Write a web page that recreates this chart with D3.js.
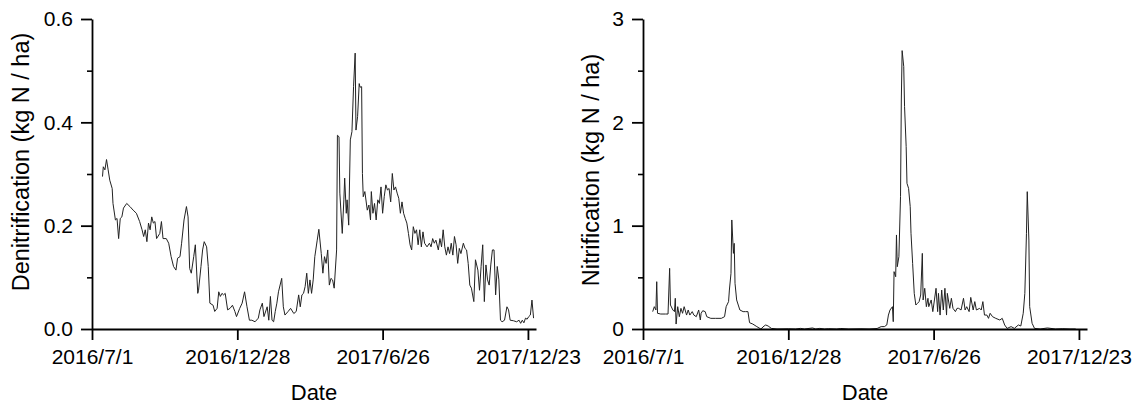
<!DOCTYPE html>
<html>
<head>
<meta charset="utf-8">
<script src="https://cdn.jsdelivr.net/npm/d3@7"></script>
<style>
  html, body { margin: 0; padding: 0; background: #fff; }
  svg { display: block; font-family: "Liberation Sans", Arial, sans-serif; }
  .tick text { fill: #000; }
</style>
</head>
<body>
<svg id="chart" width="1142" height="410"></svg>
<script>
// Days counted from 2016-07-01
const startDate = new Date(2016, 6, 1);
const endDate = new Date(2018, 0, 2);
const dateTicks = [new Date(2016, 6, 1), new Date(2016, 11, 28), new Date(2017, 5, 26), new Date(2017, 11, 23)];

// Denitrification (kg N / ha)
const denitDays = [13,14,16,18,20,22,25,26,29,31,33,35,37,39,43,47,51,55,59,62,64,66,68,70,72,74,76,78,80,84,86,88,92,95,98,101,104,106,109,111,114,117,119,121,123,126,128,131,132,135,137,139,142,144,146,150,152,155,157,159,161,163,165,168,171,174,177,179,183,186,189,192,195,198,202,206,208,211,213,217,219,221,223,225,227,229,231,235,237,239,243,246,250,253,256,258,260,262,264,266,268,270,272,274,276,279,281,284,286,288,290,292,294,296,298,300,303,304,306,307,310,312,313,315,316,318,320,322,324,326,327,329,331,332,334,335,336,338,341,343,345,346,348,350,352,354,356,358,360,362,364,366,368,370,372,374,376,378,380,382,384,386,388,390,392,394,396,398,400,402,404,406,408,410,412,415,418,420,422,424,426,429,431,433,435,437,439,441,443,445,447,449,451,453,455,457,460,462,464,466,468,470,473,475,478,480,482,484,486,488,490,492,494,496,498,500,502,504,506,508,511,514,516,518,522,526,529,531,533,535,537,539,541,543,545,547];
const denitValues = [0.295,0.314,0.308,0.328,0.308,0.288,0.272,0.243,0.211,0.214,0.175,0.214,0.217,0.234,0.243,0.237,0.230,0.224,0.208,0.192,0.179,0.192,0.169,0.205,0.192,0.217,0.205,0.208,0.175,0.185,0.208,0.175,0.175,0.166,0.140,0.121,0.114,0.137,0.140,0.166,0.211,0.237,0.217,0.117,0.108,0.140,0.163,0.069,0.075,0.121,0.153,0.169,0.159,0.121,0.050,0.046,0.034,0.040,0.072,0.063,0.069,0.066,0.069,0.037,0.040,0.046,0.034,0.024,0.040,0.050,0.072,0.043,0.017,0.017,0.014,0.021,0.037,0.050,0.024,0.043,0.017,0.063,0.017,0.014,0.034,0.050,0.072,0.098,0.043,0.027,0.034,0.040,0.030,0.034,0.066,0.043,0.066,0.069,0.082,0.108,0.069,0.095,0.069,0.095,0.140,0.172,0.193,0.146,0.108,0.140,0.127,0.153,0.085,0.098,0.095,0.079,0.153,0.375,0.372,0.263,0.185,0.250,0.292,0.224,0.250,0.201,0.366,0.382,0.469,0.534,0.385,0.411,0.475,0.468,0.469,0.301,0.256,0.266,0.230,0.240,0.211,0.266,0.224,0.243,0.211,0.250,0.243,0.275,0.224,0.256,0.279,0.269,0.272,0.246,0.301,0.269,0.275,0.263,0.253,0.224,0.246,0.224,0.214,0.205,0.185,0.163,0.153,0.198,0.185,0.192,0.163,0.192,0.159,0.188,0.166,0.159,0.166,0.159,0.175,0.166,0.172,0.153,0.175,0.159,0.192,0.159,0.143,0.159,0.146,0.166,0.143,0.179,0.163,0.127,0.156,0.146,0.166,0.156,0.153,0.127,0.085,0.079,0.053,0.134,0.114,0.075,0.121,0.163,0.053,0.124,0.095,0.085,0.124,0.153,0.153,0.066,0.121,0.095,0.017,0.014,0.017,0.043,0.037,0.017,0.016,0.014,0.017,0.011,0.017,0.012,0.021,0.019,0.024,0.027,0.056,0.021];

// Nitrification (kg N / ha)
const nitDays = [12,14,16,17,18,22,28,31,33,34,37,39,40,41,43,45,47,49,51,54,56,58,61,63,66,69,71,72,74,77,79,84,90,97,101,103,106,107,109,110,112,113,114,116,118,120,124,127,130,132,136,141,146,150,152,155,159,166,180,189,195,200,210,214,219,225,230,240,245,255,270,280,290,295,299,302,304,306,309,310,311,313,314,315,317,319,320,321,323,324,326,327,329,331,332,334,336,338,340,342,344,346,347,349,351,353,354,357,359,361,363,365,366,368,370,372,374,376,377,380,382,384,387,389,391,394,397,399,401,404,406,409,411,413,417,419,421,423,426,428,430,433,437,442,445,448,451,456,460,465,468,471,473,475,476,478,479,482,485,492,501,511,520,529,536];
const nitValues = [0.168,0.216,0.184,0.458,0.152,0.145,0.145,0.145,0.587,0.232,0.184,0.168,0.297,0.048,0.216,0.119,0.200,0.152,0.216,0.135,0.184,0.135,0.168,0.135,0.119,0.184,0.087,0.152,0.177,0.168,0.119,0.103,0.103,0.103,0.119,0.216,0.265,0.377,0.539,1.055,0.732,0.829,0.442,0.281,0.232,0.184,0.168,0.168,0.168,0.061,0.048,0.023,0.000,0.029,0.039,0.029,0.006,0.000,0.002,0.000,0.006,0.000,0.010,0.000,0.006,0.000,0.003,0.000,0.005,0.000,0.002,0.000,0.005,0.023,0.023,0.039,0.135,0.184,0.216,0.071,0.555,0.506,0.910,0.603,0.700,1.281,2.216,2.694,2.539,2.152,1.765,1.410,1.361,1.184,0.926,0.635,0.345,0.232,0.248,0.265,0.329,0.732,0.281,0.394,0.216,0.297,0.216,0.281,0.168,0.281,0.394,0.168,0.345,0.135,0.377,0.184,0.394,0.135,0.345,0.200,0.297,0.200,0.168,0.200,0.200,0.184,0.297,0.184,0.216,0.168,0.306,0.184,0.265,0.184,0.200,0.184,0.265,0.135,0.135,0.103,0.152,0.119,0.103,0.087,0.103,0.039,0.006,0.023,0.006,0.039,0.029,0.152,0.345,0.926,1.329,0.861,0.216,0.055,0.006,0.000,0.010,0.000,0.003,0.000,0.000];

const denitMajor = [0, 0.2, 0.4, 0.6];
const denitMinor = [0.1, 0.3, 0.5];
const nitMajor = [0, 1, 2, 3];
const nitMinor = [0.5, 1.5, 2.5];

const svg = d3.select("#chart");
const fmtDate = d3.timeFormat("%Y/%-m/%-d");

function panel(opts) {
  const top = 19, bottom = 329;
  const x = d3.scaleTime().domain([startDate, endDate]).range([opts.left, opts.left + 444]);
  const y = d3.scaleLinear().domain(opts.yDomain).range([bottom, top]);
  const g = svg.append("g");

  const pts = opts.days.map((d, i) => ({ date: d3.timeDay.offset(startDate, d), v: opts.values[i] }));

  g.append("path")
    .datum(pts)
    .attr("fill", "none")
    .attr("stroke", "#222")
    .attr("stroke-width", 1)
    .attr("stroke-linejoin", "round")
    .attr("d", d3.line().x(d => x(d.date)).y(d => y(d.v)));

  // minor y ticks
  g.append("g")
    .attr("transform", `translate(${opts.left},0)`)
    .call(d3.axisLeft(y).tickValues(opts.minor).tickSize(5).tickFormat(""))
    .call(a => a.select(".domain").remove())
    .call(a => a.selectAll("line").attr("stroke-width", 1.6));

  // major y axis
  const ya = g.append("g")
    .attr("transform", `translate(${opts.left},0)`)
    .call(d3.axisLeft(y).tickValues(opts.major).tickSize(11).tickSizeOuter(0).tickPadding(8).tickFormat(opts.yFormat));
  ya.select(".domain").attr("stroke-width", 1.8);
  ya.selectAll("line").attr("stroke-width", 1.8);
  ya.selectAll("text").attr("font-size", 21);

  // x axis
  const xa = g.append("g")
    .attr("transform", `translate(0,${bottom})`)
    .call(d3.axisBottom(x).tickValues(dateTicks).tickSize(11).tickSizeOuter(0).tickPadding(9).tickFormat(fmtDate));
  xa.select(".domain").attr("stroke-width", 1.8);
  xa.selectAll("line").attr("stroke-width", 1.8);
  xa.selectAll("text").attr("font-size", 21);

  svg.append("text")
    .attr("x", opts.left + 222)
    .attr("y", 400)
    .attr("text-anchor", "middle")
    .attr("font-size", 22)
    .text("Date");

  svg.append("text")
    .attr("transform", `translate(${opts.titleX},${opts.titleY}) rotate(-90)`)
    .attr("text-anchor", "middle")
    .attr("font-size", 23.5)
    .text(opts.title);
}

panel({
  left: 92, days: denitDays, values: denitValues, yDomain: [0, 0.6],
  major: denitMajor, minor: denitMinor, yFormat: d3.format(".1f"),
  title: "Denitrification (kg N / ha)", titleX: 29, titleY: 162
});

panel({
  left: 643, days: nitDays, values: nitValues, yDomain: [0, 3],
  major: nitMajor, minor: nitMinor, yFormat: d3.format("d"),
  title: "Nitrification (kg N / ha)", titleX: 599, titleY: 170
});
</script>
</body>
</html>
